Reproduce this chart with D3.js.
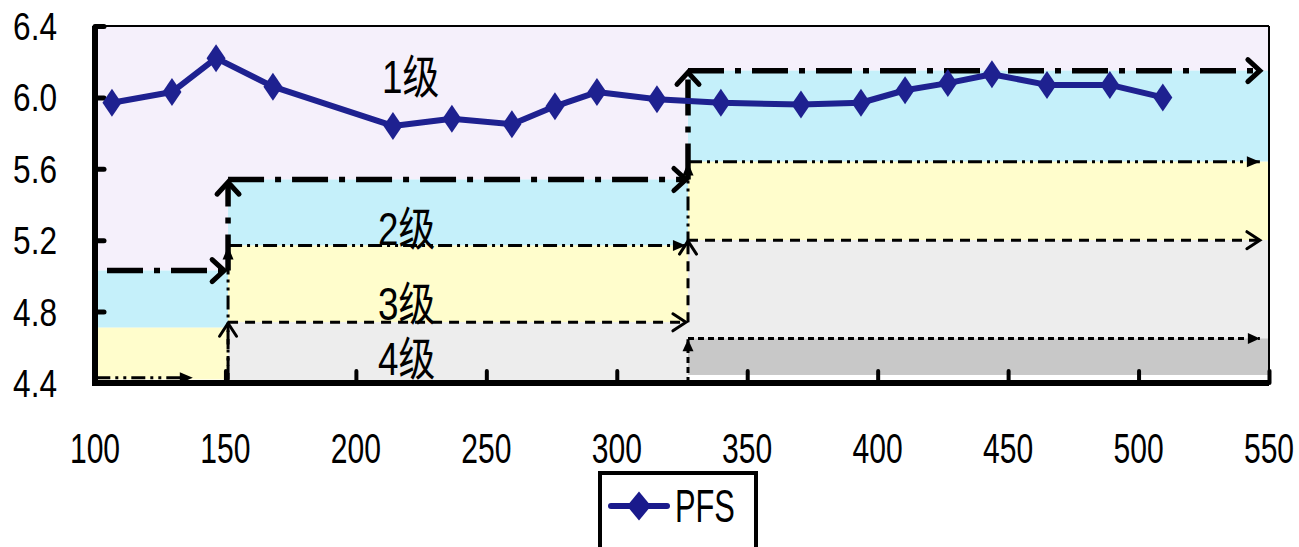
<!DOCTYPE html>
<html><head><meta charset="utf-8">
<script src="https://cdn.jsdelivr.net/npm/d3@7"></script>
<style>
html,body{margin:0;padding:0;background:#fff;}
svg{display:block;}
</style></head>
<body>
<svg id="chart" width="1299" height="547"></svg>
<script>
// ---------- data ----------
const pfsX = [106.5,129.5,146.4,168.2,214.2,236.8,259.8,276.3,292.4,315.4,339.9,370.6,393.6,410.5,426.9,443.8,464.9,489.0,509.3];
const pfsY = [5.97,6.03,6.22,6.06,5.84,5.88,5.85,5.95,6.03,5.99,5.97,5.96,5.97,6.04,6.08,6.13,6.07,6.07,6.00];
const xTicks = [100,150,200,250,300,350,400,450,500,550];
const yTicks = [4.4,4.8,5.2,5.6,6.0,6.4];
const seriesName = "PFS";
const levelNames = ["1级","2级","3级","4级"];
// segment boundaries along x
const segBounds = [100,151,327.3,550];
// band thresholds per segment (top to bottom, ending at lowest band bottom)
const seg1Bands = [6.4,5.03,4.71,4.42];
const seg2Bands = [6.4,5.54,5.17,4.74,4.41];
const seg3Bands = [6.4,6.15,5.64,5.2,4.65,4.445];
// step lines: [x0,y0,x1,y1]
const lineA = [[104.6,5.03,149.5,5.03],[151,5.03,151,5.525],[151,5.54,326.5,5.54],[327.3,5.54,327.3,6.14],[327.3,6.15,546.5,6.15]];
const lineB = [[100.5,4.43,137.5,4.43],[151,4.42,151,5.165],[151,5.17,326.5,5.17],[327.3,5.17,327.3,5.635],[327.3,5.64,546.5,5.64]];
const lineC = [[151,4.4,151,4.735],[151,4.74,326.5,4.74],[327.3,4.74,327.3,5.195],[327.3,5.2,546.5,5.2]];
const lineD = [[327.3,4.4,327.3,4.645],[327.3,4.65,546.5,4.65]];

// ---------- layout ----------
const svg = d3.select("#chart");
const x = d3.scaleLinear().domain([100,550]).range([95,1269]);
const y = d3.scaleLinear().domain([4.4,6.4]).range([383,26]);
const colors = ["#F5F0FB","#C5F0FA","#FFFDCC","#EDEDED","#C8C8C8"];

// bands
function bands(segIdx, th){
  const x0 = x(segBounds[segIdx]), x1 = x(segBounds[segIdx+1]);
  for(let i=0;i<th.length-1;i++){
    svg.append("rect").attr("x",x0).attr("width",x1-x0)
      .attr("y",y(th[i])).attr("height",y(th[i+1])-y(th[i]))
      .attr("fill",colors[i]);
  }
}
bands(0,seg1Bands); bands(1,seg2Bands); bands(2,seg3Bands);

// markers
const defs = svg.append("defs");
function chevron(id,w,h,sw){
  defs.append("marker").attr("id",id).attr("markerUnits","userSpaceOnUse")
    .attr("markerWidth",40).attr("markerHeight",40).attr("refX",0).attr("refY",0)
    .attr("orient","auto").attr("overflow","visible")
    .append("path").attr("d",`M${-w},${-h/2} L0,0 L${-w},${h/2}`)
    .attr("fill","none").attr("stroke","#000").attr("stroke-width",sw)
    .attr("stroke-linejoin","miter").attr("stroke-linecap","round");
}
function tri(id,w,h){
  defs.append("marker").attr("id",id).attr("markerUnits","userSpaceOnUse")
    .attr("markerWidth",40).attr("markerHeight",40).attr("refX",0).attr("refY",0)
    .attr("orient","auto").attr("overflow","visible")
    .append("path").attr("d",`M${-w},${-h/2} L0,0 L${-w},${h/2} Z`).attr("fill","#000");
}
chevron("chevBold",12,22,5);
chevron("chevThin",13,17,3);
tri("triB",13,11);
tri("triD",12,11);

function drawSteps(data, sw, dash, marker){
  svg.append("g").selectAll("line").data(data).join("line")
    .attr("x1",d=>x(d[0])).attr("y1",d=>y(d[1]))
    .attr("x2",d=>x(d[2])).attr("y2",d=>y(d[3]))
    .attr("stroke","#000").attr("stroke-width",sw)
    .attr("stroke-dasharray",dash)
    .attr("marker-end",`url(#${marker})`);
}
drawSteps(lineD,3,"6,4","triD");
drawSteps(lineC,3,"10,7","chevThin");
drawSteps(lineB,3,"14,5,3,5,3,5","triB");
drawSteps(lineA,5.5,"36,11,6,11","chevBold");

// frame
svg.append("line").attr("x1",x(100)).attr("x2",x(550)).attr("y1",y(6.4)).attr("y2",y(6.4)).attr("stroke","#000").attr("stroke-width",2);
svg.append("line").attr("x1",x(550)).attr("x2",x(550)).attr("y1",y(6.4)).attr("y2",y(4.4)).attr("stroke","#000").attr("stroke-width",2);

// axes
const xAxis = d3.axisBottom(x).tickValues(xTicks).tickSize(-12).tickFormat("");
const gx = svg.append("g").attr("transform",`translate(0,${y(4.4)})`).call(xAxis);
gx.select(".domain").attr("stroke","#000").attr("stroke-width",6).attr("d",`M${x(100)},0H${x(550)}`);
gx.selectAll(".tick line").attr("stroke","#000").attr("stroke-width",4).attr("stroke-linecap","round");

const yAxis = d3.axisLeft(y).tickValues(yTicks).tickSize(-9).tickFormat("");
const gy = svg.append("g").attr("transform",`translate(${x(100)},0)`).call(yAxis);
gy.select(".domain").attr("stroke","#000").attr("stroke-width",6).attr("d",`M0,${y(6.4)}V${y(4.4)+3}`);
gy.selectAll(".tick line").attr("stroke","#000").attr("stroke-width",5).attr("stroke-linecap","round");

// tick labels (condensed text)
const fam = "'Liberation Sans', Arial, 'Noto Sans CJK SC', sans-serif";
svg.append("g").selectAll("text").data(xTicks).join("text")
  .attr("transform",d=>`translate(${x(d)},463) scale(0.7,1)`)
  .attr("text-anchor","middle").attr("font-family",fam).attr("font-size",43)
  .attr("fill","#000").text(d=>d);
svg.append("g").selectAll("text").data(yTicks).join("text")
  .attr("transform",d=>`translate(57,${y(d)+14}) scale(0.81,1)`)
  .attr("text-anchor","end").attr("font-family",fam).attr("font-size",39)
  .attr("fill","#000").text(d=>d3.format(".1f")(d));

// level labels
const levelPos = [[382,93],[378,245],[378,320],[378,375]];
svg.append("g").selectAll("text").data(levelNames).join("text")
  .attr("transform",(d,i)=>`translate(${levelPos[i][0]},${levelPos[i][1]}) scale(0.8,1)`)
  .attr("font-family",fam).attr("font-size",46).attr("fill","#000").text(d=>d);

// series
const lineColor = "#1E2190";
const pts = pfsX.map((v,i)=>[v,pfsY[i]]);
svg.append("path").datum(pts)
  .attr("d",d3.line().x(d=>x(d[0])).y(d=>y(d[1])))
  .attr("fill","none").attr("stroke",lineColor).attr("stroke-width",6).attr("stroke-linejoin","round");
const diamond = (w,h)=>`M0,${-h/2} L${w/2},0 L0,${h/2} L${-w/2},0 Z`;
svg.append("g").selectAll("path").data(pts).join("path")
  .attr("transform",d=>`translate(${x(d[0])},${y(d[1])})`)
  .attr("d",diamond(19,28)).attr("fill",lineColor);

// legend
const lg = svg.append("g");
lg.append("rect").attr("x",600).attr("y",473).attr("width",156).attr("height",100)
  .attr("fill","#fff").attr("stroke","#000").attr("stroke-width",4);
lg.append("line").attr("x1",611).attr("x2",667).attr("y1",506).attr("y2",506)
  .attr("stroke","#1A1A8C").attr("stroke-width",6).attr("stroke-linecap","round");
lg.append("path").attr("transform","translate(639,506)").attr("d",diamond(24,29)).attr("fill","#1A1A8C");
lg.append("text").attr("transform","translate(675,522) scale(0.67,1)")
  .attr("font-family",fam).attr("font-size",46).attr("fill","#000").text(seriesName);
</script>
</body></html>
